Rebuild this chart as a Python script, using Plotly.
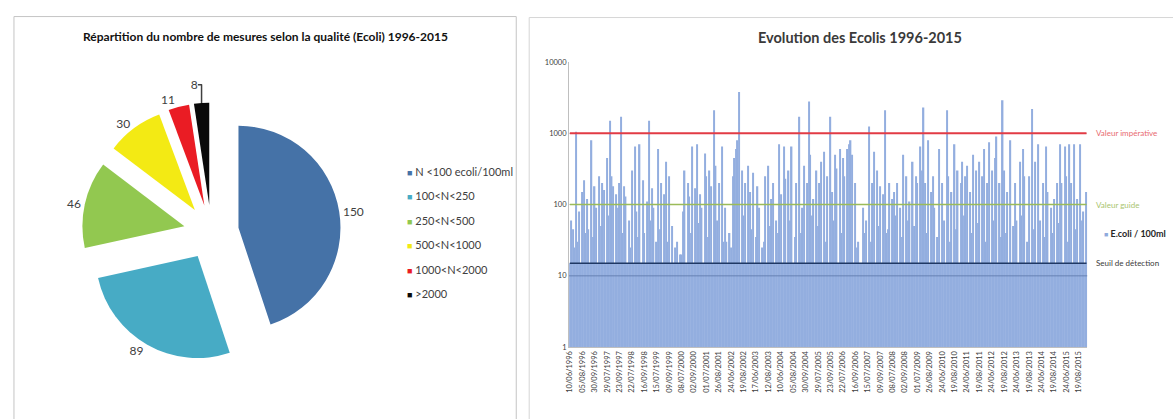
import math
import html
from datetime import date, timedelta

import plotly.graph_objects as go

W, H = 1173, 419
FONT = "Lato, 'Liberation Sans', sans-serif"

# ---- Pie: number of samples per quality class ----
quality_classes = ["N <100 ecoli/100ml", "100<N<250", "250<N<500",
                   "500<N<1000", "1000<N<2000", ">2000"]
class_counts = [150, 89, 46, 30, 11, 8]
class_colors = ["#4572A7", "#47ABC5", "#92C850", "#F3EA14", "#EA1C24", "#0A0A0A"]

# ---- Bars: E. coli per 100 ml, one value per sample, 1996-2015 ----
ecoli_values = [
    15, 60, 45, 25, 1050, 30, 80, 15, 150, 220, 40, 120, 45, 15, 800, 35, 180, 90, 15, 250,
    50, 200, 160, 15, 450, 70, 1500, 250, 180, 15, 140, 90, 200, 1700, 40, 180, 130, 15, 60, 25,
    300, 15, 650, 80, 35, 700, 15, 220, 40, 15, 110, 1500, 60, 170, 90, 15, 30, 600, 45, 200,
    15, 140, 400, 30, 250, 15, 50, 15, 25, 30, 15, 20, 20, 80, 300, 15, 200, 130, 40, 650,
    15, 170, 700, 55, 140, 90, 15, 520, 250, 35, 300, 180, 15, 2100, 350, 60, 200, 15, 650, 30,
    90, 30, 15, 40, 25, 250, 450, 600, 800, 3800, 15, 300, 70, 200, 15, 350, 150, 45, 280, 15,
    35, 180, 90, 15, 25, 30, 250, 15, 350, 50, 120, 200, 15, 60, 40, 700, 140, 15, 650, 230,
    15, 300, 60, 650, 15, 35, 200, 15, 1700, 40, 90, 350, 15, 200, 2800, 500, 70, 120, 15, 300,
    50, 200, 400, 15, 550, 30, 250, 15, 1700, 150, 60, 500, 320, 15, 600, 40, 450, 250, 15, 600,
    700, 800, 500, 15, 200, 25, 30, 15, 15, 90, 40, 60, 15, 1250, 30, 200, 550, 15, 300, 50,
    180, 15, 140, 2100, 40, 45, 200, 15, 120, 150, 70, 200, 15, 90, 35, 500, 15, 250, 60, 110,
    15, 400, 50, 250, 200, 15, 650, 300, 2300, 200, 40, 800, 15, 150, 250, 90, 15, 35, 600, 15,
    200, 60, 15, 2100, 250, 30, 150, 15, 700, 45, 300, 15, 200, 400, 70, 250, 350, 15, 150, 40,
    500, 15, 300, 55, 400, 15, 250, 600, 30, 200, 750, 15, 300, 60, 450, 900, 15, 200, 35, 2900,
    300, 40, 150, 15, 800, 15, 50, 200, 60, 15, 400, 70, 600, 250, 15, 30, 250, 15, 2200, 45,
    400, 15, 700, 60, 15, 200, 35, 650, 150, 15, 90, 40, 120, 15, 200, 55, 700, 200, 15, 650,
    250, 30, 700, 200, 15, 700, 45, 120, 15, 700, 60, 80, 15, 150,
]

# Bathing seasons and number of weekly samples taken in each
season_years = list(range(1996, 2016))
season_sizes = [17, 17, 17, 17, 17, 17, 17, 17, 17, 17,
                17, 17, 17, 17, 16, 16, 16, 16, 16, 16]

sampling_dates = []
for year, n in zip(season_years, season_sizes):
    start = date(year, 6, 10)
    for k in range(n):
        sampling_dates.append((start + timedelta(weeks=k)).strftime("%d/%m/%Y"))

# Reference levels drawn across the bar chart
threshold_values = [1000, 100, 15]
threshold_names = ["Valeur impérative", "Valeur guide", "Seuil de détection"]
threshold_colors = ["#E23B45", "#9BBB59", "#1F3864"]
threshold_widths = [2, 1.6, 1.6]

y_tick_values = [1, 10, 100, 1000, 10000]
y_tick_labels = ["1", "10", "100", "1000", "10000"]

bar_series_name = "E.coli / 100ml"


def px_x(x):
    return x / W


def px_y(y):
    return (H - y) / H


fig = go.Figure()

# Pie chart (left panel)
cx, cy, half = 208, 236, 134
fig.add_trace(go.Pie(
    labels=quality_classes,
    values=class_counts,
    marker=dict(colors=class_colors, line=dict(width=0)),
    sort=False,
    direction="clockwise",
    rotation=0,
    pull=[0.27] * len(class_counts),
    textinfo="value",
    textposition="outside",
    textfont=dict(family=FONT, size=12, color="#404040"),
    domain=dict(x=[px_x(cx - half), px_x(cx + half)],
                y=[px_y(cy + half), px_y(cy - half)]),
    showlegend=False,
    hoverinfo="label+value",
))

# Bar chart (right panel)
fig.add_trace(go.Bar(
    x=sampling_dates,
    y=ecoli_values,
    name=bar_series_name,
    marker=dict(color="#93AEDF", line=dict(width=0)),
    showlegend=False,
    xaxis="x", yaxis="y",
))

for v, name, col, lw in zip(threshold_values, threshold_names,
                            threshold_colors, threshold_widths):
    fig.add_trace(go.Scatter(
        x=[sampling_dates[0], sampling_dates[-1]],
        y=[v, v],
        mode="lines",
        line=dict(color=col, width=lw),
        name=name,
        showlegend=False,
        xaxis="x", yaxis="y",
    ))

annotations = []

# Panel titles
annotations.append(dict(
    text="<b>Répartition du nombre de mesures selon la qualité (Ecoli) 1996-2015</b>",
    x=px_x(262), y=px_y(34), xref="paper", yref="paper",
    xanchor="center", yanchor="middle", showarrow=False,
    font=dict(family=FONT, size=12, color="#111111"),
))
annotations.append(dict(
    text="<b>Evolution des Ecolis 1996-2015</b>",
    x=px_x(859), y=px_y(35), xref="paper", yref="paper",
    xanchor="center", yanchor="middle", showarrow=False,
    font=dict(family=FONT, size=14.5, color="#3A3A3A"),
))

# Pie legend
for i, (name, col) in enumerate(zip(quality_classes, class_colors)):
    annotations.append(dict(
        text=f"<span style='color:{col};font-size:9px'>■</span> {html.escape(name)}",
        x=px_x(402), y=px_y(173 + i * 25.3), xref="paper", yref="paper",
        xanchor="left", yanchor="middle", showarrow=False,
        font=dict(family=FONT, size=11, color="#404040"),
    ))

# Labels at the right end of the reference lines
label_colors = ["#E86A70", "#A9C46E", "#3A3A3A"]
for v, name, col in zip(threshold_values, threshold_names, label_colors):
    annotations.append(dict(
        text=html.escape(name),
        x=px_x(1094), y=math.log10(v), xref="paper", yref="y",
        xanchor="left", yanchor="middle", showarrow=False,
        font=dict(family=FONT, size=8, color=col),
    ))

# Legend of the bar series
annotations.append(dict(
    text=f"<span style='color:#8FAADC;font-size:7px'>■</span> <b>{html.escape(bar_series_name)}</b>",
    x=px_x(1102), y=px_y(237), xref="paper", yref="paper",
    xanchor="left", yanchor="middle", showarrow=False,
    font=dict(family=FONT, size=9, color="#262626"),
))

shapes = [
    # panel frames
    dict(type="rect", xref="paper", yref="paper",
         x0=px_x(10), x1=px_x(514), y0=-0.05, y1=px_y(13),
         line=dict(color="#C4C4C4", width=1), fillcolor="rgba(0,0,0,0)", layer="below"),
    dict(type="rect", xref="paper", yref="paper",
         x0=px_x(527), x1=1.05, y0=-0.05, y1=px_y(14),
         line=dict(color="#D6D6D6", width=1), fillcolor="rgba(0,0,0,0)", layer="below"),
    # gridline at 10 seen through the bars
    dict(type="line", xref="x domain", yref="y",
         x0=0, x1=1, y0=10, y1=10,
         line=dict(color="rgba(60,85,140,0.5)", width=1), layer="above"),
]

fig.update_layout(
    width=W, height=H,
    margin=dict(l=0, r=0, t=0, b=0),
    paper_bgcolor="white",
    plot_bgcolor="white",
    showlegend=False,
    bargap=0.12,
    font=dict(family=FONT, color="#404040"),
    annotations=annotations,
    shapes=shapes,
    xaxis=dict(
        domain=[px_x(567), px_x(1087)],
        anchor="y",
        type="category",
        tickmode="array",
        tickvals=sampling_dates[::8],
        ticktext=sampling_dates[::8],
        tickangle=-90,
        tickfont=dict(family=FONT, size=7.5, color="#404040"),
        showline=True, linecolor="#BFBFBF", linewidth=1,
        showgrid=False, ticks="", zeroline=False,
    ),
    yaxis=dict(
        domain=[px_y(355), px_y(60)],
        anchor="x",
        type="log",
        range=[0, 4],
        tickmode="array",
        tickvals=y_tick_values,
        ticktext=y_tick_labels,
        tickfont=dict(family=FONT, size=7.5, color="#404040"),
        showline=True, linecolor="#BFBFBF", linewidth=1,
        showgrid=True, gridcolor="#D9D9D9", gridwidth=1,
        ticks="", zeroline=False,
    ),
)

fig.write_html("out.html")
